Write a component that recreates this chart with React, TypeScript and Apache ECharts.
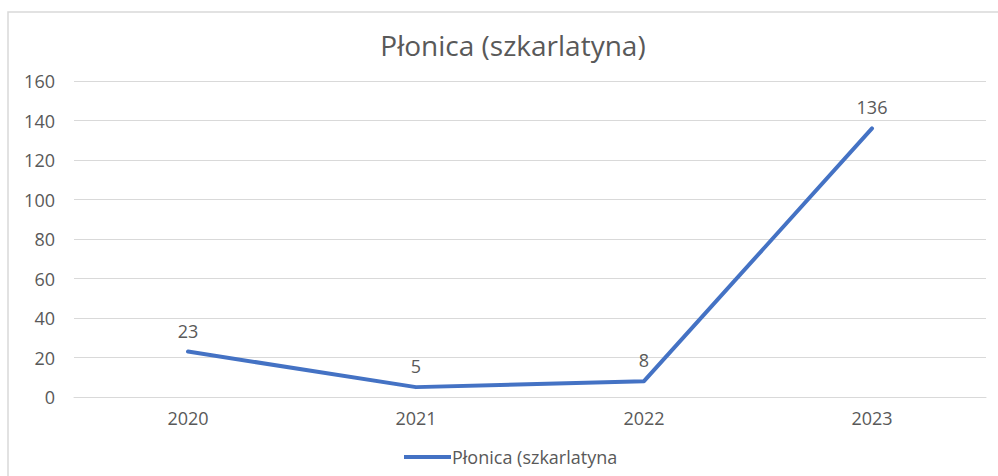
import React, { useEffect, useRef } from "react";
import * as echarts from "echarts";

const categories = ["2020", "2021", "2022", "2023"];
const values = [23, 5, 8, 136];
const seriesName = "Płonica (szkarlatyna";
const titleText = "Płonica (szkarlatyna)";

export default function App() {
  const ref = useRef<HTMLDivElement>(null);
  useEffect(() => {
    document.body.style.margin = "0";
    const chart = echarts.init(ref.current!, null, { renderer: "svg" });
    const font = "'Open Sans', 'Noto Sans', sans-serif";
    chart.setOption({
      animation: false,
      backgroundColor: "#ffffff",
      textStyle: { fontFamily: font },
      title: {
        text: titleText,
        left: 508,
        top: 26,
        textAlign: "center",
        textStyle: { color: "#595959", fontSize: 28, fontWeight: "normal", fontFamily: font },
      },
      graphic: [
        {
          type: "rect",
          shape: { x: 8, y: 12, width: 1000, height: 500 },
          style: { fill: "none", stroke: "#d9d9d9", lineWidth: 1.5 },
          silent: true,
        },
      ],
      legend: {
        left: 399,
        top: 443,
        itemWidth: 47,
        itemHeight: 4,
        itemGap: 10,
        icon: "rect",
        textStyle: { color: "#595959", fontSize: 18, fontFamily: font, padding: [0, 0, 0, -4] },
        data: [seriesName],
      },
      grid: { left: 74, right: 12, top: 81, bottom: 79 },
      xAxis: {
        type: "category",
        data: categories,
        axisLine: { lineStyle: { color: "#d9d9d9" } },
        axisTick: { show: false },
        axisLabel: { color: "#595959", fontSize: 18, margin: 12 },
      },
      yAxis: {
        type: "value",
        min: 0,
        max: 160,
        interval: 20,
        axisLine: { show: false },
        axisTick: { show: false },
        splitLine: { lineStyle: { color: "#d9d9d9", width: 1 } },
        axisLabel: { color: "#595959", fontSize: 18, margin: 19 },
      },
      series: [
        {
          name: seriesName,
          type: "line",
          data: values,
          color: "#4472C4",
          symbol: "circle",
          symbolSize: 0,
          showSymbol: true,
          lineStyle: { width: 4, color: "#4472C4", cap: "round", join: "round" },
          label: {
            show: true,
            position: "top",
            distance: 12,
            color: "#595959",
            fontSize: 18,
          },
        },
      ],
    });
    return () => chart.dispose();
  }, []);
  return (
    <div
      ref={ref}
      style={{ position: "absolute", left: 0, top: 0, width: 998, height: 476 }}
    />
  );
}
